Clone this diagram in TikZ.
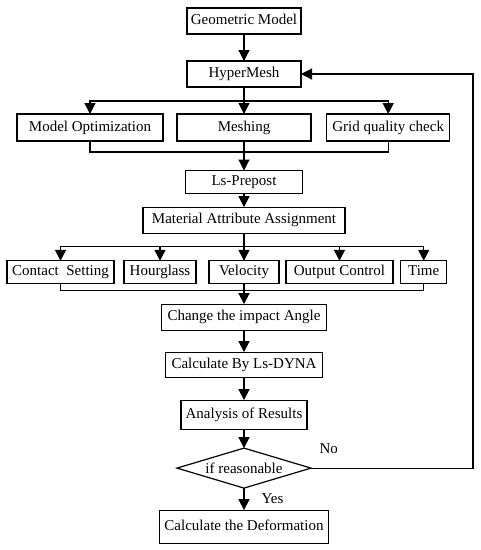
\documentclass[tikz,border=0pt]{standalone}
\usepackage{fontspec}
\setmainfont{Liberation Serif}
\usepackage{tikz}
\usetikzlibrary{positioning}
\usetikzlibrary{calc}
\usetikzlibrary{arrows.meta}
\usetikzlibrary{shapes.geometric}
\tikzset{
    blk/.style={
    draw,
    line width=1.2pt,
    inner sep=3pt,
    outer sep=0pt,
    text height=10.5pt,
    text depth=3.3pt,
    align=center
    },
    decide/.style={
    draw,
    diamond,
    line width=1.2pt,
    inner sep=0pt,
    outer sep=0pt,
    aspect=3.35,
    minimum width=134pt,
    minimum height=40pt
    }
}

\begin{document}
\begin{tikzpicture}[x=1pt,y=-1pt,line width=1.2pt,>={Triangle[length=11pt,width=11pt]}]
\fontsize{15}{18}\selectfont
\useasboundingbox (0,0) rectangle (481,550);

\node [blk,minimum width=114pt,minimum height=26pt] (gm) at (244,21) {Geometric Model};
\node [blk,minimum width=114pt,minimum height=26pt,below=27pt of gm](hm){HyperMesh};

\node [blk,minimum width=134pt,minimum height=27pt,below=27pt of hm](mesh){Meshing};
\node [blk,minimum width=146pt,minimum height=27pt,left=14pt of mesh](opt){Model Optimization};
\node [blk,minimum width=123pt,minimum height=27pt,right=15.7pt of mesh](grid){Grid quality check};

\node [blk,minimum width=117pt,minimum height=22.6pt,below=29.5pt of mesh](lsp){Ls-Prepost};
\node [blk,minimum width=202pt,minimum height=26pt,below=14pt of lsp](mat){Material Attribute Assignment};

\node [blk,minimum width=70pt,minimum height=22.3pt,below=27.7pt of mat](vel){Velocity};
\node [blk,minimum width=72pt,minimum height=22.3pt,left=13pt of vel](hg){Hourglass};
\node [blk,minimum width=107pt,minimum height=22.3pt,left=10pt of hg](cs){Contact\ \ Setting};
\node [blk,minimum width=107pt,minimum height=22.3pt,right=7pt of vel](oc){Output Control};
\node [blk,minimum width=46pt,minimum height=22.3pt,right=7.7pt of oc](tm){Time};

\node [blk,minimum width=165pt,minimum height=26pt,below=21pt of vel](chg){Change the impact Angle};
\node [blk,minimum width=157pt,minimum height=25pt,below=22pt of chg](dyna){Calculate By Ls-DYNA};
\node [blk,minimum width=126pt,minimum height=29pt,below=23pt of dyna](res){Analysis of Results};
\node [decide,below=19pt of res](ok){if reasonable};
\node [blk,minimum width=169pt,minimum height=33pt,below=22pt of ok](dfm){Calculate the Deformation};

% split and merge points
\coordinate [below=14pt of hm.south](s1);
\coordinate [below=11pt of mesh.south](m1);
\coordinate [below=13pt of mat.south](s2);
\coordinate [below=7pt of vel.south](m2);

\draw[->] (gm) -- (hm);
\draw[->] (hm) -- (mesh);
\draw[->] (s1) -| (opt.north);
\draw[->] (s1) -| (grid.north);
\draw (opt.south) |- (m1);
\draw (grid.south) |- (m1);
\draw[->] (mesh) -- (lsp);
\draw[->] (lsp) -- (mat);

\draw[->] (mat) -- (vel);
\foreach \n in {cs,hg,oc,tm}
  \draw[->] (s2) -| (\n.north);
\draw (cs.south) |- (m2);
\draw (tm.south) |- (m2);
\draw[->] (vel) -- (chg);
\draw[->] (chg) -- (dyna);
\draw[->] (dyna) -- (res);
\draw[->] (res) -- (ok);
\draw[->] (ok) -- node[right=12pt](yes){Yes} (dfm);

% loop back
\draw[->] (ok.east) -| ($(hm.east)+(172,0)$) |- (hm.east);
\node [above right=9pt and 3pt of ok.east](no){No};

\end{tikzpicture}
\end{document}
